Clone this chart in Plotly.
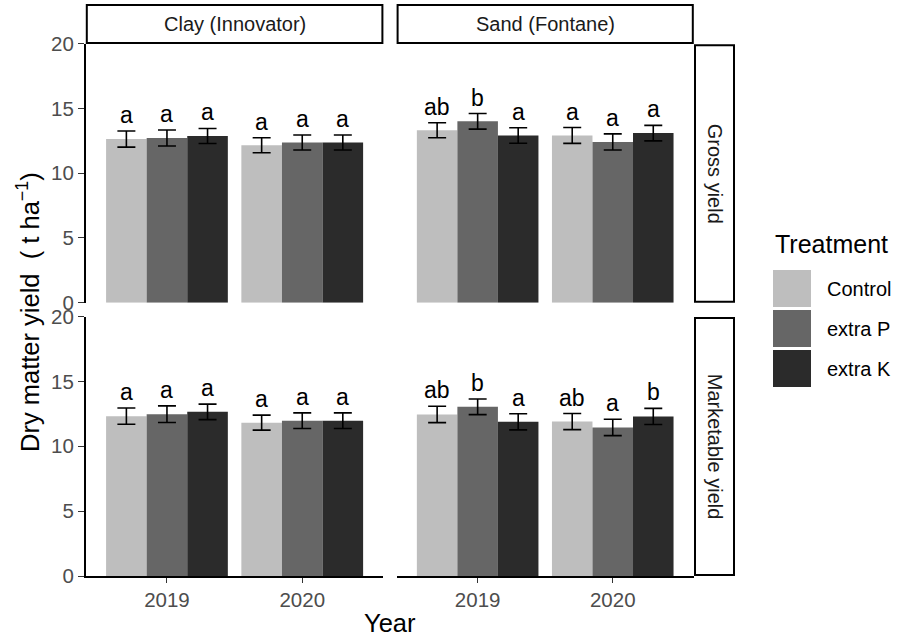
import plotly.graph_objects as go

W, H = 899, 640

years = ["2019", "2020"]
treatments = ["Control", "extra P", "extra K"]
colors = ["#BEBEBE", "#666666", "#2B2B2B"]

# Dry matter yield means (t/ha) per treatment, ordered 2019, 2020
gross_clay_control = [12.64, 12.16]
gross_clay_extra_p = [12.72, 12.38]
gross_clay_extra_k = [12.88, 12.38]
gross_sand_control = [13.32, 12.92]
gross_sand_extra_p = [14.01, 12.42]
gross_sand_extra_k = [12.92, 13.10]
market_clay_control = [12.32, 11.82]
market_clay_extra_p = [12.47, 11.97]
market_clay_extra_k = [12.65, 11.97]
market_sand_control = [12.45, 11.90]
market_sand_extra_p = [13.04, 11.45]
market_sand_extra_k = [11.88, 12.30]

# Standard errors
gross_clay_se = [[0.62, 0.58], [0.62, 0.58], [0.58, 0.58]]
gross_sand_se = [[0.58, 0.61], [0.60, 0.62], [0.60, 0.60]]
market_clay_se = [[0.63, 0.58], [0.64, 0.60], [0.60, 0.60]]
market_sand_se = [[0.63, 0.62], [0.60, 0.63], [0.62, 0.62]]

# Significance letters
gross_clay_letters = [["a", "a"], ["a", "a"], ["a", "a"]]
gross_sand_letters = [["ab", "a"], ["b", "a"], ["a", "a"]]
market_clay_letters = [["a", "a"], ["a", "a"], ["a", "a"]]
market_sand_letters = [["ab", "ab"], ["b", "a"], ["a", "b"]]

soil_labels = ["Clay (Innovator)", "Sand (Fontane)"]
yield_labels = ["Gross yield", "Marketable yield"]
y_ticks = [0, 5, 10, 15, 20]

panels = [
    # (axis suffix, means, se, letters)
    ("", [gross_clay_control, gross_clay_extra_p, gross_clay_extra_k], gross_clay_se, gross_clay_letters),
    ("2", [gross_sand_control, gross_sand_extra_p, gross_sand_extra_k], gross_sand_se, gross_sand_letters),
    ("3", [market_clay_control, market_clay_extra_p, market_clay_extra_k], market_clay_se, market_clay_letters),
    ("4", [market_sand_control, market_sand_extra_p, market_sand_extra_k], market_sand_se, market_sand_letters),
]

FONT = "Liberation Sans, Arial, sans-serif"


def px_x(x):
    return x / W


def px_y(y):
    return 1 - y / H


# panel pixel boxes
col_x = [(85.8, 383.4), (396.6, 693.8)]
row_y = [(43.8, 302.7), (316.5, 576.0)]

fig = go.Figure()
annotations = []

for idx, (suf, means, ses, letters) in enumerate(panels):
    for t in range(3):
        fig.add_trace(go.Bar(
            x=years, y=means[t], name=treatments[t],
            marker=dict(color=colors[t], line=dict(width=0)),
            error_y=dict(type="data", array=ses[t], color="black", thickness=1.6, width=9),
            xaxis="x" + suf, yaxis="y" + suf,
            offsetgroup=str(t), showlegend=False,
        ))
        for i in range(2):
            annotations.append(dict(
                x=i + (t - 1) * 0.3, y=means[t][i] + ses[t][i],
                xref="x" + suf, yref="y" + suf,
                text=letters[t][i], showarrow=False,
                xanchor="center", yanchor="bottom", yshift=1,
                font=dict(family=FONT, size=23, color="black"),
            ))

layout_axes = {}
for idx in range(4):
    r, c = divmod(idx, 2)
    suf = "" if idx == 0 else str(idx + 1)
    x0, x1 = col_x[c]
    y0, y1 = row_y[r]
    bottom = r == 1
    left = c == 0
    layout_axes["xaxis" + suf] = dict(
        domain=[px_x(x0), px_x(x1)], anchor="y" + suf, type="category",
        range=[-0.6, 1.6], showgrid=False, zeroline=False, automargin=False,
        showline=bottom, linecolor="black", linewidth=1.6,
        ticks="outside" if bottom else "", ticklen=5, tickwidth=1.4, tickcolor="#333333",
        showticklabels=bottom,
        tickfont=dict(family=FONT, size=20.5, color="#4D4D4D"),
    )
    layout_axes["yaxis" + suf] = dict(
        domain=[px_y(y1), px_y(y0)], anchor="x" + suf,
        range=[0, 20], tickvals=y_ticks, showgrid=False, zeroline=False, automargin=False,
        showline=left, linecolor="black", linewidth=1.6,
        ticks="outside" if left else "", ticklen=6, tickwidth=1.4, tickcolor="#333333",
        showticklabels=left,
        tickfont=dict(family=FONT, size=20.5, color="#4D4D4D"),
    )

shapes = []
# column strips
for c, (x0, x1) in enumerate(col_x):
    shapes.append(dict(type="rect", xref="paper", yref="paper",
                       x0=px_x(x0 + 1), x1=px_x(x1 - 1), y0=px_y(43), y1=px_y(5),
                       line=dict(color="black", width=2), fillcolor="white"))
    annotations.append(dict(x=px_x((x0 + x1) / 2), y=px_y(24), xref="paper", yref="paper",
                            text=soil_labels[c], showarrow=False,
                            xanchor="center", yanchor="middle",
                            font=dict(family=FONT, size=20, color="#1A1A1A")))
# row strips
for r, (y0, y1) in enumerate(row_y):
    shapes.append(dict(type="rect", xref="paper", yref="paper",
                       x0=px_x(695), x1=px_x(734), y0=px_y(y1 - 1), y1=px_y(y0 + 1.5),
                       line=dict(color="black", width=2), fillcolor="white"))
    annotations.append(dict(x=px_x(714.5), y=px_y((y0 + y1) / 2), xref="paper", yref="paper",
                            text=yield_labels[r], showarrow=False, textangle=90,
                            xanchor="center", yanchor="middle",
                            font=dict(family=FONT, size=20, color="#1A1A1A")))

# axis titles
annotations.append(dict(x=px_x(390), y=px_y(623), xref="paper", yref="paper",
                        text="Year", showarrow=False, xanchor="center", yanchor="middle",
                        font=dict(family=FONT, size=25.5, color="black")))
annotations.append(dict(x=px_x(28), y=px_y(312), xref="paper", yref="paper",
                        text="Dry matter yield&nbsp;&nbsp;(&nbsp;t ha<sup>\u22121</sup>)", showarrow=False,
                        textangle=-90, xanchor="center", yanchor="middle",
                        font=dict(family=FONT, size=25.5, color="black")))

# legend
annotations.append(dict(x=px_x(773), y=px_y(244), xref="paper", yref="paper",
                        text="Treatment", showarrow=False, xanchor="left", yanchor="middle",
                        font=dict(family=FONT, size=25, color="black")))
key_tops = [270, 310, 350]
for t, top in enumerate(key_tops):
    shapes.append(dict(type="rect", xref="paper", yref="paper",
                       x0=px_x(773), x1=px_x(811), y0=px_y(top + 37), y1=px_y(top),
                       line=dict(width=0), fillcolor=colors[t]))
    annotations.append(dict(x=px_x(825), y=px_y(top + 18.5), xref="paper", yref="paper",
                            text=treatments[t], showarrow=False, xanchor="left", yanchor="middle",
                            font=dict(family=FONT, size=20, color="black")))

fig.update_layout(
    template="none",
    width=W, height=H, margin=dict(l=0, r=0, t=0, b=0, pad=0, autoexpand=False),
    paper_bgcolor="white", plot_bgcolor="white",
    barmode="group", bargap=0.1, bargroupgap=0,
    showlegend=False, shapes=shapes, annotations=annotations,
    font=dict(family=FONT),
    **layout_axes,
)

fig.write_html("out.html")
